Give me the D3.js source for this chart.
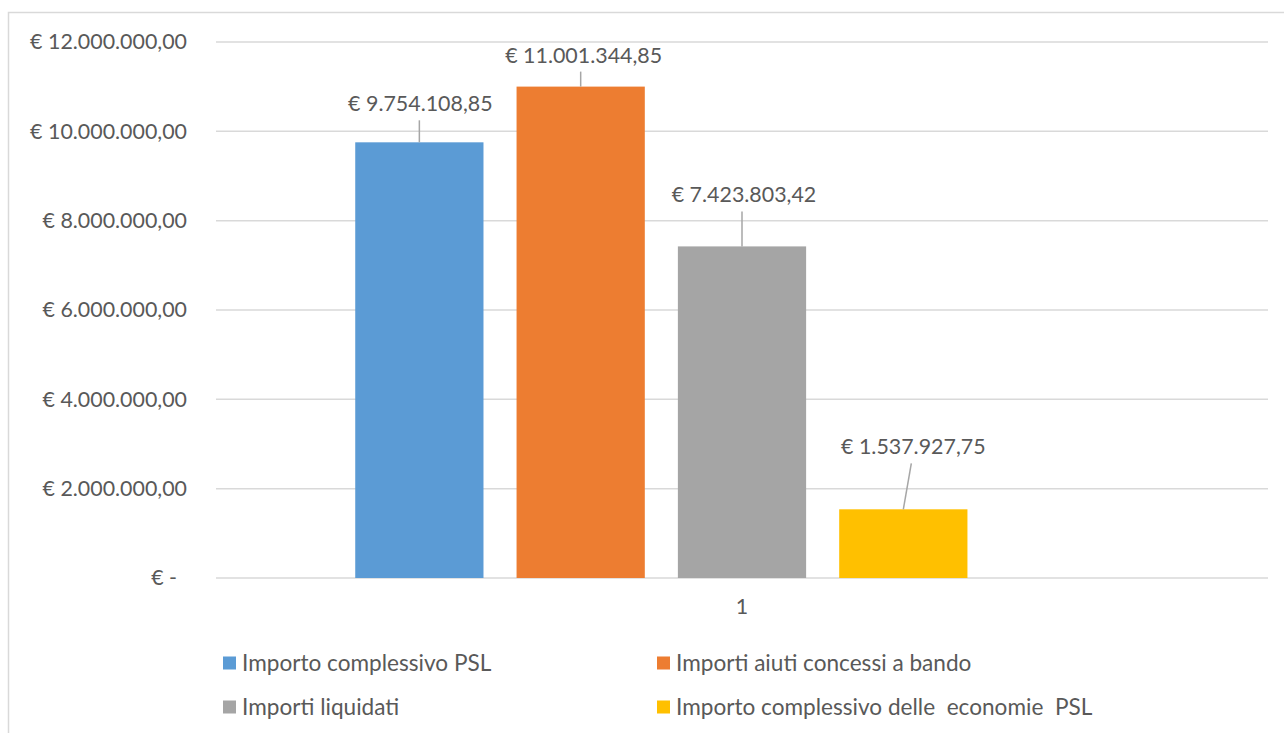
<!DOCTYPE html>
<html><head><meta charset="utf-8">
<script src="https://cdn.jsdelivr.net/npm/d3@7"></script>
<style>body{margin:0;background:#fff}svg{display:block}text{font-family:Lato,"Open Sans",sans-serif;fill:#595959}</style>
</head><body>
<svg id="c" width="1284" height="733"></svg>
<script>
const categories = ["1"];
const seriesNames = ["Importo complessivo PSL","Importi aiuti concessi a bando","Importi liquidati","Importo complessivo delle  economie  PSL"];
const seriesValues = [9754108.85, 11001344.85, 7423803.42, 1537927.75];
const yTicks = [0, 2000000, 4000000, 6000000, 8000000, 10000000, 12000000];
const colors = ["#5B9BD5","#ED7D31","#A5A5A5","#FFC000"];
// the source chart reserves one more (empty) series slot in the cluster
const emptySlot = "";
// label placement (pixels above bar top, horizontal shifts) — layout only
const labelRise = [31, 24, 44, 55];
const labelShift = [1, 3, 2, 10];
const leaderShift = [0, 0, 0, 8];

const svg = d3.select("#c");
const W = 1284, H = 733;
const plot = {left:216, right:1268, top:42, bottom:578};

svg.append("rect").attr("x",8.5).attr("y",12.5).attr("width",W).attr("height",H)
  .attr("fill","#fff").attr("stroke","#d9d9d9").attr("stroke-width",1.5);

const loc = d3.formatLocale({decimal:",", thousands:".", grouping:[3], currency:["€ ",""]});
const fmt = loc.format("$,.2f");

const y = d3.scaleLinear().domain([0,12000000]).range([plot.bottom, plot.top]);
const x0 = d3.scaleBand().domain(categories).range([plot.left, plot.right]).paddingInner(0).paddingOuter(0.18);
const x1 = d3.scaleBand().domain([...seriesNames, emptySlot]).range([0, x0.bandwidth()]).paddingInner(0.205).paddingOuter(0);

const numFont = "21.4px", legFont = "22.6px";

// gridlines
svg.append("g").selectAll("line").data(yTicks).join("line")
  .attr("x1",plot.left).attr("x2",plot.right)
  .attr("y1",d=>y(d)).attr("y2",d=>y(d))
  .attr("stroke","#d9d9d9").attr("stroke-width",1.5);

// y axis labels
const yAxis = d3.axisLeft(y).tickValues(yTicks).tickSize(0).tickPadding(29)
  .tickFormat(d => d===0 ? "€ -" : fmt(d));
const gy = svg.append("g").attr("transform",`translate(${plot.left},0)`).call(yAxis);
gy.select(".domain").remove();
gy.selectAll("text").style("font-family","Lato,'Open Sans',sans-serif").style("font-size",numFont).attr("fill","#595959")
  .attr("dx", d => d===0 ? -10 : 0);

// x axis label
const xAxis = d3.axisBottom(x0).tickSize(0).tickPadding(21);
const gx = svg.append("g").attr("transform",`translate(0,${plot.bottom})`).call(xAxis);
gx.select(".domain").remove();
gx.selectAll("text").style("font-family","Lato,'Open Sans',sans-serif").style("font-size",numFont).attr("fill","#595959");

// bars
const data = seriesNames.map((s,i)=>({s, v:seriesValues[i], i}));
const g = svg.append("g").attr("transform",`translate(${x0(categories[0])},0)`);
g.selectAll("rect").data(data).join("rect")
  .attr("x",d=>x1(d.s)).attr("width",x1.bandwidth())
  .attr("y",d=>y(d.v)).attr("height",d=>y(0)-y(d.v))
  .attr("fill",(d)=>colors[d.i]);

// leader lines and labels
data.forEach(d=>{
  const cx = x1(d.s) + x1.bandwidth()/2;
  const top = y(d.v);
  const lx = cx + labelShift[d.i];
  const base = top - labelRise[d.i];
  g.append("line").attr("x1", cx + leaderShift[d.i]).attr("y1", base+9).attr("x2", cx).attr("y2", top)
    .attr("stroke","#a6a6a6").attr("stroke-width",1.5);
  g.append("text").attr("x",lx).attr("y",base).attr("text-anchor","middle")
    .style("font-size",numFont).text(fmt(d.v));
});

// legend
const legPos = [[223,663],[657,663],[223,707],[657,707]];
const lg = svg.append("g");
data.forEach(d=>{
  const [lx,ly] = legPos[d.i];
  lg.append("rect").attr("x",lx).attr("y",ly-6.5).attr("width",13).attr("height",13).attr("fill",colors[d.i]);
  lg.append("text").attr("x",lx+19).attr("y",ly).attr("dy","0.35em").style("font-size",legFont).style("white-space","pre").attr("xml:space","preserve").text(d.s);
});
</script>
</body></html>
